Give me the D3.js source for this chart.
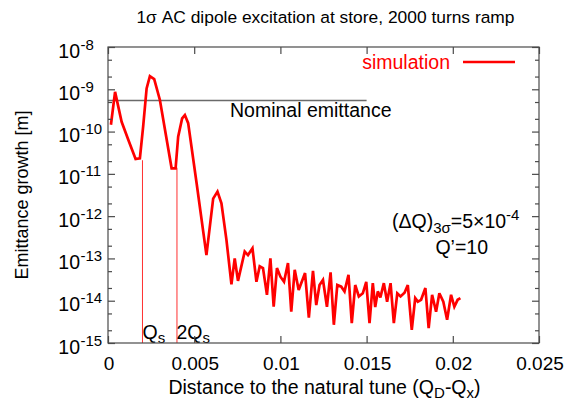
<!DOCTYPE html>
<html><head><meta charset="utf-8">
<script src="https://cdn.jsdelivr.net/npm/d3@7"></script>
<style>body{margin:0;background:#fff}svg{display:block;font-family:"Liberation Sans",Arial,sans-serif}</style>
</head><body><svg id="c" width="569" height="407"></svg>
<script>
const tuneDistance = [0.00017,0.00041,0.00079,0.00122,0.00160,0.00185,0.00204,0.00224,0.00243,0.00268,0.00301,0.00369,0.00392,0.00407,0.00430,0.00446,0.00465,0.00514,0.00571,0.00610,0.00635,0.00658,0.00687,0.00716,0.00735,0.00754,0.00793,0.00812,0.00838,0.00861,0.00880,0.00899,0.00922,0.00942,0.00961,0.00980,0.01000,0.01021,0.01044,0.01063,0.01083,0.01106,0.01143,0.01165,0.01189,0.01208,0.01227,0.01247,0.01270,0.01291,0.01310,0.01330,0.01353,0.01372,0.01395,0.01414,0.01434,0.01455,0.01478,0.01498,0.01517,0.01536,0.01550,0.01565,0.01580,0.01600,0.01619,0.01639,0.01658,0.01678,0.01697,0.01720,0.01739,0.01762,0.01782,0.01797,0.01816,0.01841,0.01860,0.01880,0.01903,0.01922,0.01945,0.01967,0.01990,0.02009,0.02028,0.02044];
const emittanceGrowth = [1.45e-10,8.7e-10,1.7e-10,5.75e-11,2.24e-11,2.34e-11,1.32e-10,1.05e-9,2.04e-9,1.74e-9,5.6e-10,1.35e-11,1.35e-11,7.6e-11,2.04e-10,2.45e-10,1.58e-10,6.0e-12,1.2e-13,2.6e-12,3.8e-12,2.0e-12,2.75e-13,2.45e-14,1.0e-13,2.95e-14,1.45e-13,1.2e-13,1.74e-13,2.8e-14,6.5e-14,5.9e-14,1.38e-14,1.0e-13,7.2e-15,5.9e-14,3.7e-14,2.8e-14,7.8e-14,5.5e-15,5.4e-14,1.8e-14,4.5e-14,4.0e-15,5.1e-14,7.9e-15,2.35e-14,3.1e-14,7.2e-15,4.7e-14,2.7e-15,2.35e-14,2.15e-14,1.66e-14,4.1e-14,2.95e-15,2.35e-14,1.26e-14,1.5e-14,2.8e-14,2.95e-15,2.6e-14,7.1e-15,1.66e-14,1.2e-14,2.6e-14,9.5e-15,2.6e-14,2.95e-15,1.5e-14,1.26e-14,1.55e-14,2.35e-14,2.05e-15,1.15e-14,9.5e-15,1.05e-14,2.0e-14,2.25e-15,1.38e-14,5.5e-15,1.5e-14,9.5e-15,3.55e-15,1.38e-14,7.2e-15,1.05e-14,1.15e-14];
const nominalEmittance = 5.4e-10;
const nominalEnd = 0.015;
const markerX = [0.002, 0.004];
const markerTop = [2.1e-11, 1.4e-11];
const markerLabels = [["Q","s"],["2Q","s"]];
const xTicks = [0,0.005,0.01,0.015,0.02,0.025];
const xTickLabels = ["0","0.005","0.01","0.015","0.02","0.025"];
const yExponents = [-8,-9,-10,-11,-12,-13,-14,-15];

const svg = d3.select("#c");
const L=108,R=539,T=47,B=343;
const x = d3.scaleLinear().domain([0,0.025]).range([L,R]);
const y = d3.scaleLog().domain([1e-15,1e-8]).range([B,T]);
const axisCol="#4a4a4a";
const FS=19.5, SS=15;

// title
svg.append("text").attr("x",(L+R)/2+2).attr("y",23).attr("text-anchor","middle")
  .attr("font-size",17.4).attr("fill","#000").text("1σ AC dipole excitation at store, 2000 turns ramp");

// nominal emittance line
svg.append("line").attr("x1",x(0)).attr("x2",x(nominalEnd)).attr("y1",y(nominalEmittance)).attr("y2",y(nominalEmittance))
  .attr("stroke","#6a6a6a").attr("stroke-width",1.5);
svg.append("text").attr("x",230).attr("y",117).attr("font-size",FS).text("Nominal emittance");

// marker lines
markerX.forEach((m,i)=>{
  svg.append("line").attr("x1",x(m)).attr("x2",x(m)).attr("y1",y(1e-15)).attr("y2",y(markerTop[i]))
    .attr("stroke","#ff3030").attr("stroke-width",1);
  const t=svg.append("text").attr("x",x(m)+(i===0?0:-0.5)).attr("y",339).attr("font-size",FS);
  t.append("tspan").text(markerLabels[i][0]);
  t.append("tspan").attr("font-size",SS).attr("dy",4).text(markerLabels[i][1]);
});

// curve
const pts = tuneDistance.map((d,i)=>[d,emittanceGrowth[i]]);
svg.append("path").datum(pts).attr("fill","none").attr("stroke","#ff0000").attr("stroke-width",2.7)
  .attr("stroke-linejoin","miter").attr("stroke-miterlimit",3)
  .attr("d",d3.line().x(d=>x(d[0])).y(d=>y(d[1])));

// frame
svg.append("rect").attr("x",L).attr("y",T).attr("width",R-L).attr("height",B-T)
  .attr("fill","none").attr("stroke",axisCol).attr("stroke-width",1.2);

// axes
const xb = d3.axisBottom(x).tickValues(xTicks).tickSize(-7).tickFormat("");
const xt = d3.axisTop(x).tickValues(xTicks).tickSize(-7).tickFormat("");
svg.append("g").attr("transform",`translate(0,${B})`).call(xb);
svg.append("g").attr("transform",`translate(0,${T})`).call(xt);
const majors = yExponents.map(e=>Math.pow(10,e));
const minors = [];
yExponents.slice(1).forEach(e=>{[2,5].forEach(k=>minors.push(k*Math.pow(10,e)));});
const yl = d3.axisLeft(y).tickValues(majors).tickSize(-7).tickFormat("");
const yr = d3.axisRight(y).tickValues(majors).tickSize(-7).tickFormat("");
const ylm = d3.axisLeft(y).tickValues(minors).tickSize(-4).tickFormat("");
const yrm = d3.axisRight(y).tickValues(minors).tickSize(-4).tickFormat("");
[[yl,L],[ylm,L],[yr,R],[yrm,R]].forEach(([a,p])=>svg.append("g").attr("transform",`translate(${p},0)`).call(a));
svg.selectAll(".domain").remove();
svg.selectAll(".tick line").attr("stroke",axisCol).attr("stroke-width",1.2);

// x tick labels
xTicks.forEach((v,i)=>{
  svg.append("text").attr("x",x(v)+1).attr("y",370).attr("text-anchor","middle").attr("font-size",FS-0.5).text(xTickLabels[i]);
});
// y tick labels
yExponents.forEach(e=>{
  const yy=y(Math.pow(10,e));
  svg.append("text").attr("x",80).attr("y",yy+10.5).attr("text-anchor","end").attr("font-size",FS).text("10");
  svg.append("text").attr("x",80.5).attr("y",yy+2.5).attr("font-size",SS).text("-"+Math.abs(e));
});

// axis titles
const xl=svg.append("text").attr("x",(L+R)/2+1).attr("y",394).attr("text-anchor","middle").attr("font-size",FS);
xl.append("tspan").text("Distance to the natural tune (Q");
xl.append("tspan").attr("font-size",SS).attr("dy",4).text("D");
xl.append("tspan").attr("dy",-4).text("-Q");
xl.append("tspan").attr("font-size",SS).attr("dy",4).text("x");
xl.append("tspan").attr("dy",-4).text(")");
svg.append("text").attr("transform",`translate(28,${(T+B)/2}) rotate(-90)`).attr("text-anchor","middle")
  .attr("font-size",18).text("Emittance growth [m]");

// legend
svg.append("text").attr("x",450).attr("y",69).attr("text-anchor","end").attr("font-size",FS).attr("fill","#ff0000").text("simulation");
svg.append("line").attr("x1",463).attr("x2",515).attr("y1",62).attr("y2",62).attr("stroke","#ff0000").attr("stroke-width",2.7);

// annotation
const a1=svg.append("text").attr("x",392).attr("y",228).attr("font-size",FS);
a1.append("tspan").text("(ΔQ)");
a1.append("tspan").attr("font-size",SS).attr("dy",5).text("3σ");
a1.append("tspan").attr("dy",-5).text("=5×10");
a1.append("tspan").attr("font-size",SS).attr("dy",-8).text("-4");
svg.append("text").attr("x",488).attr("y",254).attr("text-anchor","end").attr("font-size",FS).text("Q’=10");
</script></body></html>
